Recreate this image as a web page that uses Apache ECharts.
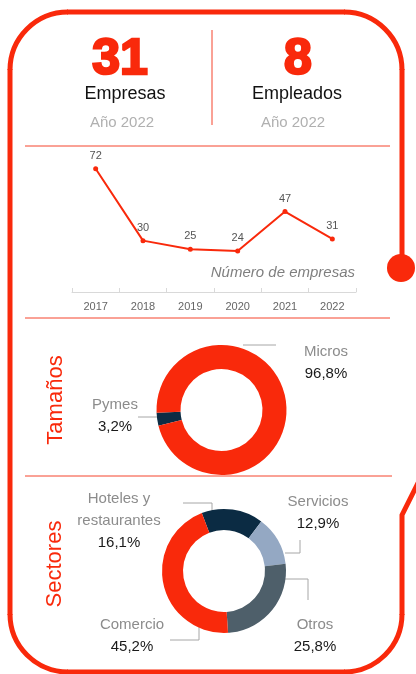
<!DOCTYPE html>
<html>
<head>
<meta charset="utf-8">
<script src="https://cdn.jsdelivr.net/npm/echarts/dist/echarts.min.js"></script>
<style>
html, body { margin: 0; padding: 0; background: #fff; }
#chartArea { width: 416px; height: 674px; }
</style>
</head>
<body>
<div id="chartArea"></div>
<script>
// data
let years = ['2017', '2018', '2019', '2020', '2021', '2022'];
let empresas = [72, 30, 25, 24, 47, 31];
let tamNames = ['Pymes', 'Micros'];
let tamValues = [3.2, 96.8];
let secNames = ['Hoteles y\nrestaurantes', 'Servicios', 'Otros', 'Comercio'];
let secValues = [16.1, 12.9, 25.8, 45.2];
let totalEmpresas = '31';
let totalEmpleados = '8';
let yearText = 'Año 2022';

let red = '#f9290b';
let sepColor = '#f5442c';
let font = 'Liberation Sans';
let tamColors = ['#0d2c44', red];
let secColors = ['#0b2b43', '#94a8c3', '#4e5f6a', red];

// label placement (Excel style leader lines)
let tamLabelPos = [
    {x: 115, y: 416, line: [[170, 417], [154, 417], [138, 417]]},
    {x: 326, y: 363, line: [[243, 345], [260, 345], [276, 345]]}
];
let secLabelPos = [
    {x: 119, y: 521, line: [[212, 511], [212, 503], [183, 503]]},
    {x: 318, y: 513, line: [[285, 553], [300, 553], [300, 540]]},
    {x: 315, y: 636, line: [[285, 579], [308, 579], [308, 600]]},
    {x: 132, y: 636, line: [[199, 627], [199, 640], [170, 640]]}
];

function pctLabel(p) {
    let lines = p.name.split('\n').map(function (s) { return '{n|' + s + '}'; });
    return lines.join('\n') + '\n{v|' + p.value.toFixed(1).replace('.', ',') + '%}';
}

let pieLabel = {
    show: true,
    position: 'outside',
    formatter: pctLabel,
    rich: {
        n: {color: '#8c8c8c', fontSize: 15, lineHeight: 22, fontFamily: font},
        v: {color: '#1a1a1a', fontSize: 15, lineHeight: 22, fontFamily: font}
    }
};
let pieLabelLine = {show: true, length: 10, length2: 10, lineStyle: {color: '#a6a6a6', width: 1}};

function txt(text, x, y, size, color, extra) {
    let style = {
        text: text, x: 0, y: 0, fill: color, fontSize: size, fontFamily: font,
        align: 'center', verticalAlign: 'middle'
    };
    Object.assign(style, extra || {});
    return {type: 'text', x: x, y: y, style: style, z: 10};
}

function seg(x1, y1, x2, y2, color, w) {
    return {type: 'line', shape: {x1: x1, y1: y1, x2: x2, y2: y2}, style: {stroke: color, lineWidth: w}};
}

function corner(cx, cy, a0, a1) {
    return {
        type: 'arc',
        shape: {cx: cx, cy: cy, r: 58, startAngle: a0, endAngle: a1, clockwise: true},
        style: {stroke: red, lineWidth: 5, fill: null}
    };
}

let dom = document.getElementById('chartArea');
let myChart = echarts.init(dom);

let option = {
    animation: false,
    textStyle: {fontFamily: font},
    grid: {left: 72, right: 60, top: 155, bottom: 382},
    xAxis: {
        type: 'category',
        data: years,
        boundaryGap: true,
        axisLine: {lineStyle: {color: '#d9d9d9'}},
        axisTick: {show: true, inside: true, length: 4, lineStyle: {color: '#d9d9d9'}},
        axisLabel: {color: '#666', fontSize: 11, margin: 9}
    },
    yAxis: {type: 'value', min: 0, max: 80, show: false},
    series: [
        {
            type: 'line',
            data: empresas,
            color: red,
            symbol: 'circle',
            symbolSize: 5,
            lineStyle: {width: 2, color: red},
            label: {show: true, position: 'top', distance: 5, color: '#555', fontSize: 11}
        },
        {
            type: 'pie',
            center: [221.5, 410],
            radius: [41, 65],
            startAngle: 194,
            clockwise: true,
            avoidLabelOverlap: false,
            data: tamNames.map(function (n, i) {
                return {name: n, value: tamValues[i], itemStyle: {color: tamColors[i]}};
            }),
            label: pieLabel,
            labelLine: pieLabelLine,
            labelLayout: function (params) {
                let pos = tamLabelPos[params.dataIndex];
                return {x: pos.x, y: pos.y, align: 'center', verticalAlign: 'middle', labelLinePoints: pos.line};
            },
            emphasis: {disabled: true}
        },
        {
            type: 'pie',
            center: [224, 571],
            radius: [41, 62],
            startAngle: 111,
            clockwise: true,
            avoidLabelOverlap: false,
            data: secNames.map(function (n, i) {
                return {name: n, value: secValues[i], itemStyle: {color: secColors[i]}};
            }),
            label: pieLabel,
            labelLine: pieLabelLine,
            labelLayout: function (params) {
                let pos = secLabelPos[params.dataIndex];
                return {x: pos.x, y: pos.y, align: 'center', verticalAlign: 'middle', labelLinePoints: pos.line};
            },
            emphasis: {disabled: true}
        }
    ],
    graphic: [
        // rounded frame, open on the right side
        seg(402, 268, 402, 69, red, 5),
        corner(344, 70, -Math.PI / 2, 0),
        seg(67, 12, 345, 12, red, 5),
        corner(68, 70, Math.PI, Math.PI * 1.5),
        seg(10, 69, 10, 615, red, 5),
        corner(68, 614, Math.PI / 2, Math.PI),
        seg(67, 672, 345, 672, red, 5),
        corner(344, 614, 0, Math.PI / 2),
        {type: 'polyline', shape: {points: [[402, 615], [402, 515], [421, 477]]},
            style: {stroke: red, lineWidth: 5, fill: null}},
        {type: 'circle', shape: {cx: 401, cy: 268, r: 14}, style: {fill: red}},
        seg(212, 30, 212, 125, sepColor, 1),
        seg(25, 146, 390, 146, sepColor, 1),
        seg(25, 318, 390, 318, sepColor, 1),
        seg(25, 476, 392, 476, sepColor, 1),
        txt(totalEmpresas, 120, 60, 50, red, {fontWeight: 'bold', stroke: red, lineWidth: 2.5}),
        txt('Empresas', 125, 94, 18, '#111'),
        txt(yearText, 122, 123, 15, '#b0b0b0'),
        txt(totalEmpleados, 298, 60, 50, red, {fontWeight: 'bold', stroke: red, lineWidth: 2.5}),
        txt('Empleados', 297, 94, 18, '#111'),
        txt(yearText, 293, 123, 15, '#b0b0b0'),
        txt('Número de empresas', 355, 273, 15, '#7f7f7f', {align: 'right', fontStyle: 'italic'}),
        Object.assign(txt('Tamaños', 56, 400, 22, red), {rotation: Math.PI / 2}),
        Object.assign(txt('Sectores', 55, 564, 22, red), {rotation: Math.PI / 2})
    ]
};

myChart.setOption(option);
</script>
</body>
</html>
